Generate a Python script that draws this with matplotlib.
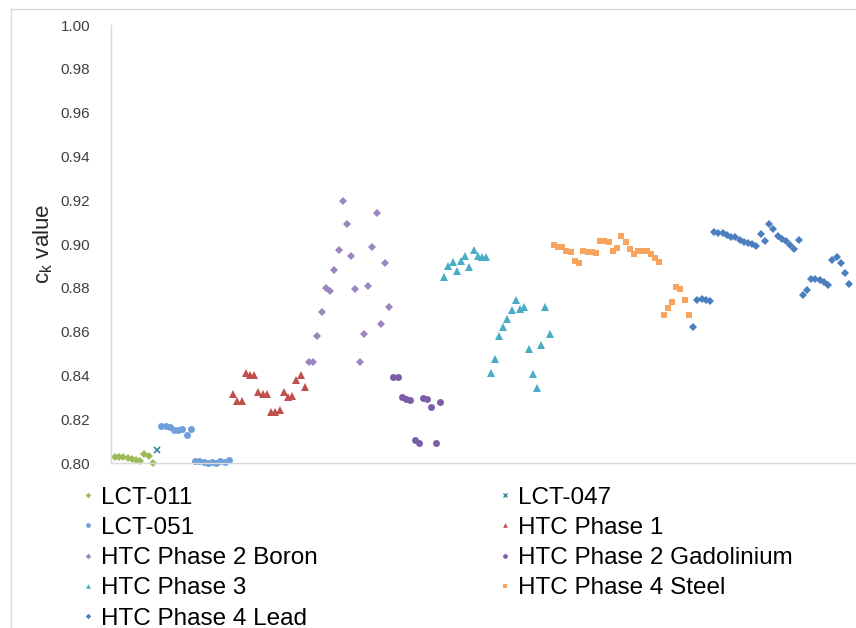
import matplotlib
matplotlib.use("Agg")
import matplotlib.pyplot as plt
from matplotlib.lines import Line2D
import numpy as np

plt.rcParams["font.family"] = ["Liberation Sans", "DejaVu Sans"]

# ---- data: case number (run order) and c_k value for each benchmark set ----
lct011_case = list(range(1, 11))
lct011_ck = [0.8030, 0.8030, 0.8028, 0.8025, 0.8021, 0.8016, 0.8012, 0.8042, 0.8033, 0.8002]

lct047_case = [11]
lct047_ck = [0.8061]

lct051_case = list(range(12, 29))
lct051_ck = [0.8172, 0.8168, 0.8164, 0.8152, 0.8150, 0.8158, 0.8130, 0.8155,
             0.8010, 0.8010, 0.8007, 0.8002, 0.8006, 0.8003, 0.8012, 0.8004, 0.8013]

htc1_case = list(range(29, 47))
htc1_ck = [0.8315, 0.8286, 0.8286, 0.8411, 0.8403, 0.8403, 0.8326, 0.8315, 0.8315,
           0.8233, 0.8236, 0.8242, 0.8324, 0.8304, 0.8309, 0.8380, 0.8405, 0.8347]

htc2b_case = list(range(47, 67))
htc2b_ck = [0.8463, 0.8463, 0.8580, 0.8691, 0.8798, 0.8787, 0.8881, 0.8973, 0.9196, 0.9091,
            0.8948, 0.8796, 0.8460, 0.8590, 0.8807, 0.8988, 0.9143, 0.8635, 0.8916, 0.8711]

htc2g_case = list(range(67, 79))
htc2g_ck = [0.8393, 0.8393, 0.8304, 0.8294, 0.8289, 0.8106, 0.8094, 0.8297, 0.8294,
            0.8256, 0.8091, 0.8279]

htc3_case = list(range(79, 105))
htc3_ck = [0.8849, 0.8902, 0.8918, 0.8879, 0.8924, 0.8947, 0.8895, 0.8975, 0.8947, 0.8942,
           0.8942, 0.8411, 0.8478, 0.8583, 0.8621, 0.8659, 0.8701, 0.8747, 0.8706, 0.8711,
           0.8521, 0.8408, 0.8345, 0.8540, 0.8711, 0.8592]

htc4s_case = list(range(105, 138))
htc4s_ck = [0.8994, 0.8989, 0.8986, 0.8971, 0.8963, 0.8924, 0.8913, 0.8971, 0.8966, 0.8963,
            0.8959, 0.9016, 0.9016, 0.9012, 0.8971, 0.8982, 0.9038, 0.9009, 0.8979, 0.8956,
            0.8971, 0.8971, 0.8971, 0.8956, 0.8936, 0.8918, 0.8677, 0.8708, 0.8738, 0.8804,
            0.8796, 0.8746, 0.8677]

htc4l_case = list(range(138, 176))
htc4l_ck = [0.8624, 0.8745, 0.8748, 0.8745, 0.8742, 0.9057, 0.9051, 0.9053, 0.9043, 0.9033,
            0.9034, 0.9020, 0.9011, 0.9003, 0.8999, 0.8990, 0.9047, 0.9015, 0.9093, 0.9068,
            0.9036, 0.9025, 0.9013, 0.8997, 0.8978, 0.9020, 0.8768, 0.8791, 0.8842, 0.8842,
            0.8835, 0.8826, 0.8814, 0.8928, 0.8943, 0.8913, 0.8868, 0.8819]

y_ticks = [0.80, 0.82, 0.84, 0.86, 0.88, 0.90, 0.92, 0.94, 0.96, 0.98, 1.00]

# name, x, y, marker, color, plot size, legend size, edge width
series = [
    ("LCT-011", lct011_case, lct011_ck, "D", "#9BBB59", 4.2, 2.8, 0),
    ("LCT-047", lct047_case, lct047_ck, "x", "#31859C", 5.0, 3.4, 1.2),
    ("LCT-051", lct051_case, lct051_ck, "o", "#6F9FD8", 5.0, 3.4, 0),
    ("HTC Phase 1", htc1_case, htc1_ck, "^", "#C0504D", 5.3, 3.4, 0),
    ("HTC Phase 2 Boron", htc2b_case, htc2b_ck, "D", "#9C85C0", 4.2, 2.8, 0),
    ("HTC Phase 2 Gadolinium", htc2g_case, htc2g_ck, "o", "#7E5CA8", 5.0, 3.4, 0),
    ("HTC Phase 3", htc3_case, htc3_ck, "^", "#4BACC6", 5.3, 3.4, 0),
    ("HTC Phase 4 Steel", htc4s_case, htc4s_ck, "s", "#F8A45E", 4.9, 3.2, 0),
    ("HTC Phase 4 Lead", htc4l_case, htc4l_ck, "D", "#4A7EBF", 4.2, 2.8, 0),
]

W, H = 856, 628
fig = plt.figure(figsize=(W / 100, H / 100), dpi=100)


def fx(px):
    return px / W


def fy(py):
    return 1 - py / H


ax = fig.add_axes([fx(111), fy(463.3), 1 - fx(111), fy(25) - fy(463.3)])

for name, xs, ys, mk, col, ms, _, mew in series:
    ax.plot(xs, ys, linestyle="none", marker=mk, markersize=ms, color=col,
            markeredgewidth=mew, clip_on=False, label=name)

ax.set_xlim(0.07, 176.6)
ax.set_ylim(0.80, 1.00)
ax.set_xticks([])
ax.set_yticks(y_ticks)
ax.set_yticklabels([f"{v:.2f}" for v in y_ticks])
ax.tick_params(axis="y", length=0, pad=15, labelsize=11, labelcolor="#404040")
for side in ("top", "right"):
    ax.spines[side].set_visible(False)
for side in ("left", "bottom"):
    ax.spines[side].set_color("#d9d9d9")
    ax.spines[side].set_linewidth(1.0)
ax.set_ylabel(r"c$_\mathregular{k}$ value", fontsize=16, color="#262626", labelpad=4)

# legend laid out in two columns below the plot
row_y = [495, 525.3, 555.6, 585.9, 616.2]
col_marker_x = [88, 505]
col_text_x = [101, 518]
for i, (name, _, _, mk, col, _, lms, mew) in enumerate(series):
    r, c = divmod(i, 2)
    fig.add_artist(Line2D([fx(col_marker_x[c])], [fy(row_y[r])], transform=fig.transFigure,
                          linestyle="none", marker=mk, markersize=lms, color=col,
                          markeredgewidth=mew * 0.8))
    fig.text(fx(col_text_x[c]), fy(row_y[r] + 8.5), name, fontsize=17.5,
             color="black", ha="left", va="baseline")

# thin frame around the chart area
fig.add_artist(Line2D([fx(10.5), fx(10.5)], [fy(8.5), 0], transform=fig.transFigure,
                      color="#d9d9d9", linewidth=1))
fig.add_artist(Line2D([fx(10.5), 1], [fy(8.5), fy(8.5)], transform=fig.transFigure,
                      color="#d9d9d9", linewidth=1))

fig.savefig("out.png", dpi=100)
